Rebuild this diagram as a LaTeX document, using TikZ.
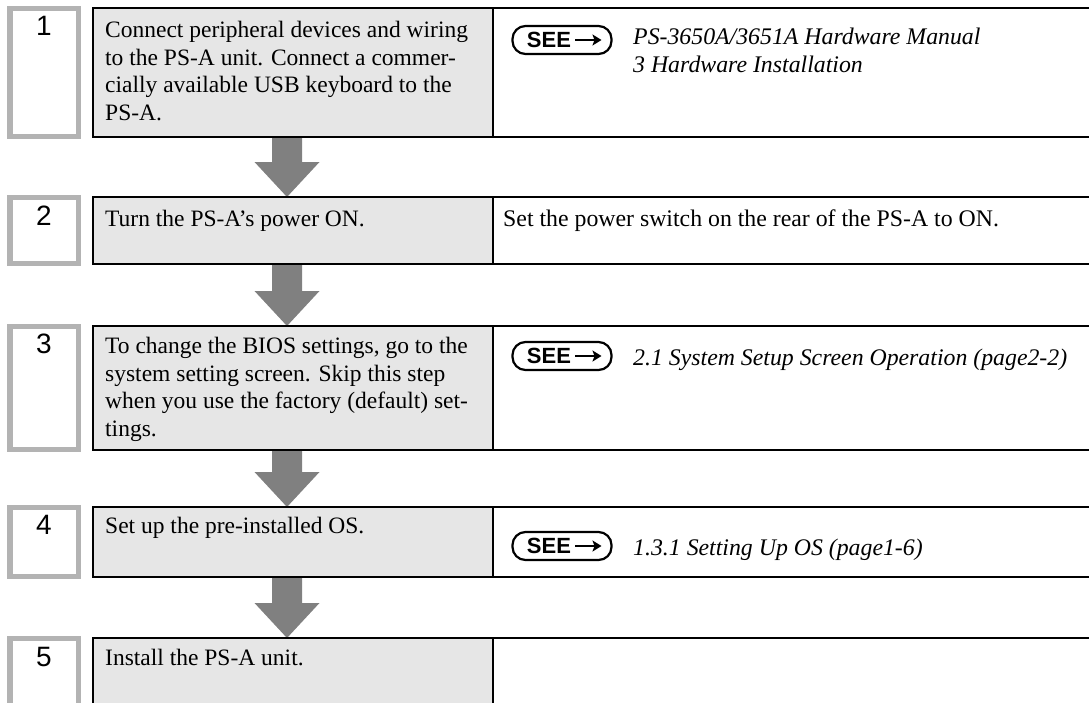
\documentclass[tikz,border=0pt]{standalone}
\usepackage{fontspec}
\setmainfont{Liberation Serif}
\newfontfamily\numfont{Liberation Sans}
\usetikzlibrary{calc,arrows.meta}
\definecolor{cellgray}{HTML}{E6E6E6}
\definecolor{numgray}{HTML}{B3B3B3}
\definecolor{arrgray}{HTML}{808080}
\pgfdeclarelayer{background}
\pgfsetlayers{background,main}
\tikzset{
  leftcell/.style={draw=black, line width=2pt, fill=cellgray, outer sep=0pt, inner sep=0pt, minimum width=400pt, anchor=north west},
  rightcell/.style={draw=black, line width=2pt, fill=white, outer sep=0pt, inner sep=0pt, minimum width=602pt, anchor=north west},
  numbox/.style={draw=numgray, line width=5.5pt, fill=white, outer sep=0pt, inner sep=0pt, minimum width=68.5pt, anchor=north west},
  numtext/.style={inner sep=0pt, anchor=base, font=\numfont\fontsize{28}{30}\selectfont},
  bodytext/.style={inner sep=0pt, anchor=north west, align=left, font=\fontsize{23.5}{27.7}\selectfont},
  righttext/.style={inner sep=0pt, anchor=base west, font=\fontsize{23.8}{27.7}\selectfont},
  reftext/.style={inner sep=0pt, anchor=base west, font=\itshape\fontsize{23.8}{28}\selectfont},
  seebadge/.style={draw=black, line width=2.2pt, rounded corners=13pt, minimum height=28pt, minimum width=99pt, inner sep=0pt,
    font=\numfont\bfseries\fontsize{22}{22}\selectfont,
    path picture={\draw[line width=2.6pt, -{Stealth[length=9pt,width=11pt,inset=2pt]}]
      ($(path picture bounding box.center)+(13,0)$) -- ($(path picture bounding box.center)+(39.5,0)$);}},
  bigarrow/.style={fill=arrgray}
}
\newcommand\seelabel{\kern4pt SEE\kern30pt\relax}
\newcommand\flowarrow[2]{%
  \fill[bigarrow] let \p1=(#1.south -| ax), \p2=(#2.north -| ax) in
    (\x1-15pt,\y1) -- (\x1+15pt,\y1) -- (\x1+15pt,\y2+35pt) -- (\x1+32.5pt,\y2+35pt)
    -- (\x1,\y2) -- (\x1-32.5pt,\y2+35pt) -- (\x1-15pt,\y2+35pt) -- cycle;}
\begin{document}
\begin{tikzpicture}[x=1pt,y=-1pt]
\useasboundingbox (0,0) rectangle (1089,702);
\coordinate (ax) at (287,0);
% row 1
\node[leftcell, minimum height=129pt] (L1) at (93,8) {};
\node[rightcell, minimum height=129pt] (R1) at (493,8) {};
\node[numbox, minimum height=128pt] (N1) at (9.75,8.5) {};
\node[numtext] (D1) at (44,35) {1};
\node[bodytext] (T1) at (105,21) {Connect peripheral devices and wiring\\to the PS-A unit. Connect a commer-\\cially available USB keyboard to the\\PS-A.};
\node[seebadge] (S1) at (562,40) {\seelabel};
\node[reftext] (X1) at (633,44) {PS-3650A/3651A Hardware Manual};
\node[reftext] (Y1) at (633,72) {3 Hardware Installation};
% row 2
\node[leftcell, minimum height=67pt] (L2) at (93,197) {};
\node[rightcell, minimum height=67pt] (R2) at (493,197) {};
\node[numbox, minimum height=66pt] (N2) at (9.75,197.5) {};
\node[numtext] (D2) at (44,225) {2};
\node[bodytext] (T2) at (105,210) {Turn the PS-A’s power ON.};
\node[righttext] (X2) at (503,226) {Set the power switch on the rear of the PS-A to ON.};
% row 3
\node[leftcell, minimum height=124pt] (L3) at (93,326) {};
\node[rightcell, minimum height=124pt] (R3) at (493,326) {};
\node[numbox, minimum height=123pt] (N3) at (9.75,326.5) {};
\node[numtext] (D3) at (44,353) {3};
\node[bodytext] (T3) at (105,337) {To change the BIOS settings, go to the\\system setting screen. Skip this step\\when you use the factory (default) set-\\tings.};
\node[seebadge] (S3) at (562,356) {\seelabel};
\node[reftext] (X3) at (633,365) {2.1 System Setup Screen Operation (page2-2)};
% row 4
\node[leftcell, minimum height=70pt] (L4) at (93,507) {};
\node[rightcell, minimum height=70pt] (R4) at (493,507) {};
\node[numbox, minimum height=69pt] (N4) at (9.75,507.5) {};
\node[numtext] (D4) at (44,534) {4};
\node[bodytext] (T4) at (105,517) {Set up the pre-installed OS.};
\node[seebadge] (S4) at (562,546) {\seelabel};
\node[reftext] (X4) at (633,555) {1.3.1 Setting Up OS (page1-6)};
% row 5
\node[leftcell, minimum height=82pt] (L5) at (93,638) {};
\node[rightcell, minimum height=82pt] (R5) at (493,638) {};
\node[numbox, minimum height=82pt] (N5) at (9.75,638.5) {};
\node[numtext] (D5) at (44,666) {5};
\node[bodytext] (T5) at (105,649) {Install the PS-A unit.};
% arrows
\begin{pgfonlayer}{background}
\flowarrow{L1}{L2}
\flowarrow{L2}{L3}
\flowarrow{L3}{L4}
\flowarrow{L4}{L5}
\end{pgfonlayer}
\end{tikzpicture}
\end{document}
